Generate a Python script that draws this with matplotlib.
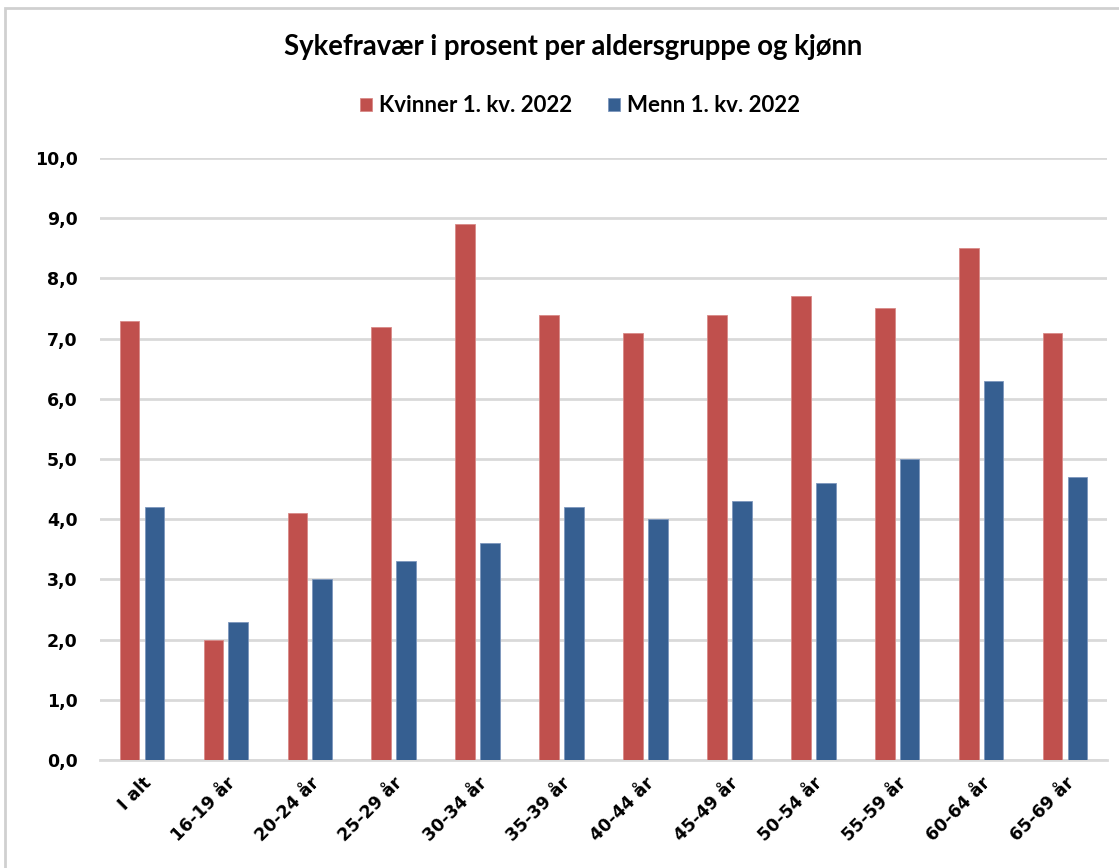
import matplotlib
matplotlib.use("Agg")
import matplotlib.pyplot as plt
from matplotlib.patches import Rectangle
import numpy as np

categories = ["I alt", "16-19 år", "20-24 år", "25-29 år", "30-34 år", "35-39 år",
              "40-44 år", "45-49 år", "50-54 år", "55-59 år", "60-64 år", "65-69 år"]
kvinner = [7.3, 2.0, 4.1, 7.2, 8.9, 7.4, 7.1, 7.4, 7.7, 7.5, 8.5, 7.1]
menn = [4.2, 2.3, 3.0, 3.3, 3.6, 4.2, 4.0, 4.3, 4.6, 5.0, 6.3, 4.7]
series_names = ["Kvinner 1. kv. 2022", "Menn 1. kv. 2022"]
title = "Sykefravær i prosent per aldersgruppe og kjønn"

plt.rcParams['font.family'] = ['Lato', 'DejaVu Sans']
tick_font = ['DejaVu Sans']

fig = plt.figure(figsize=(11.19, 8.68), dpi=100)
ax = fig.add_axes([100/1119, 1-760/868, 1007/1119, (760-158)/868])

x = np.arange(len(categories))
w = 0.235
off = 0.148
ax.bar(x - off, kvinner, w, color="#C0504D", edgecolor="#d98a88", linewidth=0.6,
       label=series_names[0], zorder=3)
ax.bar(x + off, menn, w, color="#365F91", edgecolor="#7d97bd", linewidth=0.6,
       label=series_names[1], zorder=3)

ax.set_xlim(-0.5, len(categories) - 0.5)
ax.set_ylim(0, 10)
ax.set_yticks(np.arange(0, 11, 1))
ax.set_yticklabels([f"{v:.1f}".replace(".", ",") for v in np.arange(0, 11, 1)],
                   fontsize=12.5, fontweight="bold", family=tick_font)
ax.set_xticks(x)
ax.set_xticklabels(categories, rotation=45, ha="right", rotation_mode="anchor",
                   fontsize=12.5, fontweight="bold", family=tick_font)
ax.tick_params(axis="both", length=0)
ax.tick_params(axis="y", pad=16)
ax.tick_params(axis="x", pad=10)
ax.grid(axis="y", color="#d9d9d9", linewidth=2, zorder=0)
ax.set_axisbelow(True)
for s in ["top", "right", "left"]:
    ax.spines[s].set_visible(False)
ax.spines["bottom"].set_color("#d9d9d9")
ax.spines["bottom"].set_linewidth(2)

fig.text(573.5/1119, 1-47/868, title, ha="center", va="center", fontsize=19.8, fontweight="bold")
fig.legend(loc="center", bbox_to_anchor=(580/1119, 1-106/868), ncol=2, frameon=False,
           prop={"weight": "bold", "size": 16}, handlelength=0.55,
           handleheight=0.55, columnspacing=1.6, handletextpad=0.3)

fig.patches.append(Rectangle((5/1119, -0.1), 1.2, 1-8/868+0.1, transform=fig.transFigure,
                             fill=False, edgecolor="#d0d0d0", linewidth=2))

fig.savefig("out.png", dpi=100)
